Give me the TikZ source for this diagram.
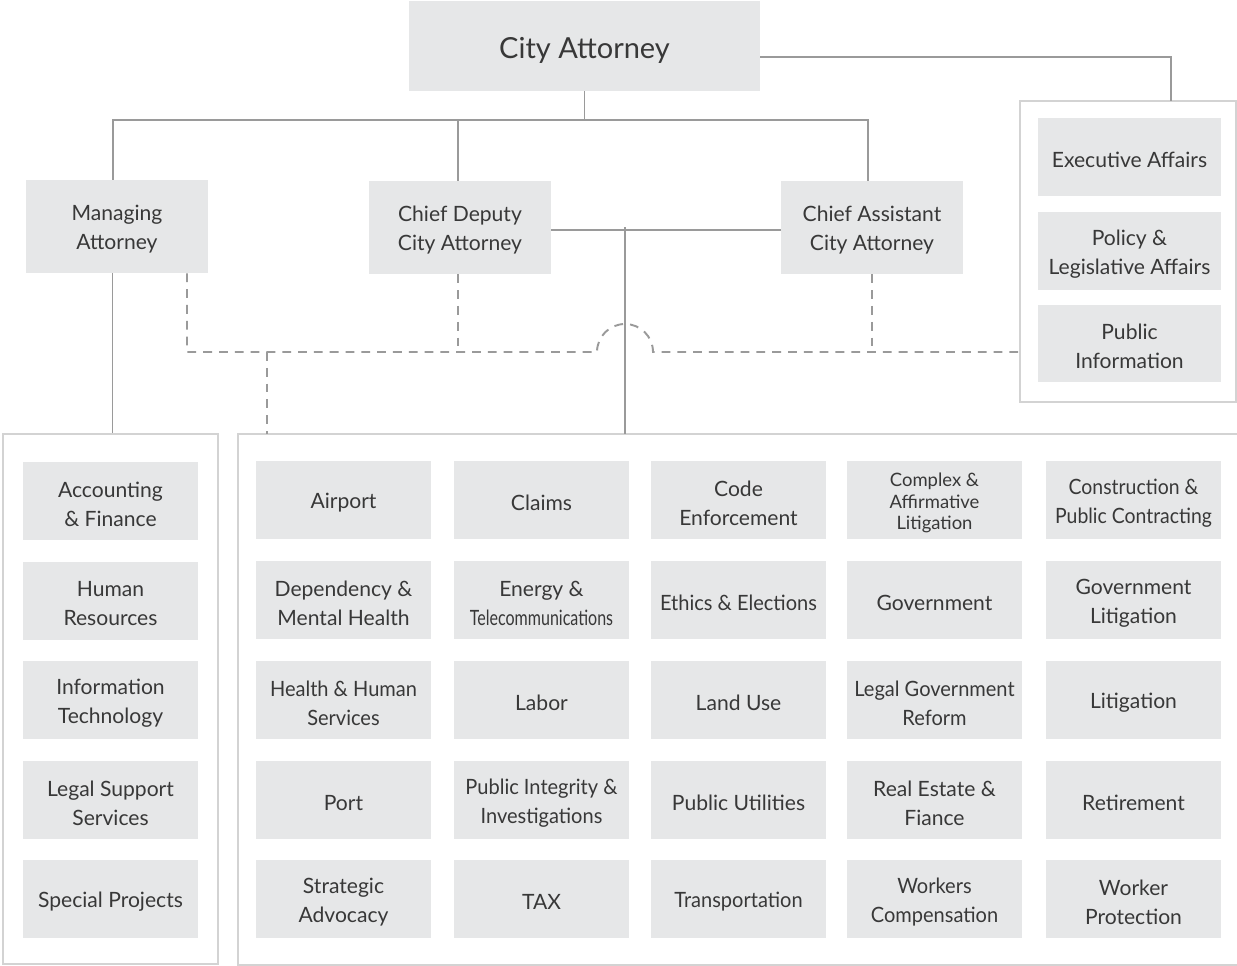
\documentclass[tikz,border=0pt]{standalone}
\usepackage{fontspec}
\setmainfont{Lato}
\usepackage{tikz}
\usetikzlibrary{positioning}

\definecolor{boxgray}{HTML}{E6E7E8}
\definecolor{linegray}{HTML}{9A9A9A}
\definecolor{framegray}{HTML}{D3D3D3}
\definecolor{textgray}{HTML}{383838}

\begin{document}
\begin{tikzpicture}[x=0.02cm, y=-0.02cm]
				\tikzstyle{Box}		= [fill=boxgray, inner sep=0pt, minimum width=3.5cm, minimum height=1.56cm]
				\tikzstyle{Head}	= [minimum width=3.64cm, minimum height=1.86cm]
				\tikzstyle{Side}	= [minimum width=3.66cm]
				\tikzstyle{Txt}		= [text=textgray, align=center, inner sep=0pt, yshift=-0.06cm, font=\fontsize{12}{16.5}\selectfont]
				\tikzstyle{Narrow}	= [font=\fontsize{10.5}{12.2}\selectfont]
				\tikzstyle{Slim}	= [font=\fontsize{12}{16.5}\selectfont\addfontfeatures{FakeStretch=0.95}]
				\tikzstyle{Panel}	= [draw=framegray, line width=1.1pt, inner sep=0pt]
				\tikzstyle{Solid}	= [draw=linegray, line width=1.1pt]
				\tikzstyle{Dash}	= [draw=linegray, line width=1.1pt, dash pattern=on 5pt off 4pt]

				\useasboundingbox (0,0) rectangle (1237,966);

				% frames around the units
				\node (lpanel) at (110.5,699) [Panel, minimum width=4.3cm, minimum height=10.6cm] {};
				\node (rpanel) at (1128,251.5) [Panel, minimum width=4.32cm, minimum height=6.02cm] {};
				\draw [Panel] (1237,434) -| (238,965) -- (1237,965);
				\coordinate (bigtop) at (625,434);
				\coordinate (dashtop) at (267,434);

				% top of the chart
				\node (ca) at (584.5,46) [Box, minimum width=7.02cm, minimum height=1.8cm, label={[Txt, yshift=-0.02cm, font=\fontsize{16.5}{20}\selectfont]center:City Attorney}] {};
				\node (ma) at (117,226.5) [Box][Head, label={[Txt]center:Managing\\Attorney}] {};
				\node (cd) at (460,227.5) [Box][Head, label={[Txt]center:Chief Deputy\\City Attorney}] {};
				\node (cas) at (872,227.5) [Box][Head, label={[Txt]center:Chief Assistant\\City Attorney}] {};

				\node (ea) at (1129.5,157) [Box][Side, label={[Txt]center:Executive Affairs}] {};
				\node (pla) at (1129.5,251) [Box][Side, label={[Txt]center:Policy \&\\Legislative Affairs}] {};
				\node (pi) at (1129.5,343.5) [Box][Side, label={[Txt]center:Public\\Information}] {};

				% administration
				\node (af) at (110.5,501) [Box, label={[Txt]center:Accounting\\\& Finance}] {};
				\node (hr) at (110.5,601) [Box, label={[Txt]center:Human\\Resources}] {};
				\node (it) at (110.5,700) [Box, label={[Txt]center:Information\\Technology}] {};
				\node (lss) at (110.5,800) [Box, label={[Txt]center:Legal Support\\Services}] {};
				\node (sp) at (110.5,899) [Box, label={[Txt]center:Special Projects}] {};

				% divisions
				\node (airport) at (343.5,500) [Box, label={[Txt]center:Airport}] {};
				\node (claims) at (541.5,500) [Box, label={[Txt]center:Claims}] {};
				\node (code) at (738.5,500) [Box, label={[Txt]center:Code\\Enforcement}] {};
				\node (cal) at (934.5,500) [Box, label={[Txt, Narrow]center:Complex \&\\Affirmative\\Litigation}] {};
				\node (cpc) at (1133.5,500) [Box, label={[Txt]center:\scalebox{0.92}[1]{Construction \&}\\\scalebox{0.92}[1]{Public Contracting}}] {};

				\node (dmh) at (343.5,600) [Box, label={[Txt]center:Dependency \&\\Mental Health}] {};
				\node (energy) at (541.5,600) [Box, label={[Txt]center:Energy \&\\\scalebox{0.76}[1]{Telecommunications}}] {};
				\node (ethics) at (738.5,600) [Box, label={[Txt, Slim]center:Ethics \& Elections}] {};
				\node (gov) at (934.5,600) [Box, label={[Txt]center:Government}] {};
				\node (govlit) at (1133.5,600) [Box, label={[Txt]center:Government\\Litigation}] {};

				\node (hhs) at (343.5,700) [Box, label={[Txt, Slim]center:Health \& Human\\Services}] {};
				\node (labor) at (541.5,700) [Box, label={[Txt]center:Labor}] {};
				\node (landuse) at (738.5,700) [Box, label={[Txt]center:Land Use}] {};
				\node (lgr) at (934.5,700) [Box, label={[Txt, Slim]center:Legal Government\\Reform}] {};
				\node (lit) at (1133.5,700) [Box, label={[Txt]center:Litigation}] {};

				\node (port) at (343.5,800) [Box, label={[Txt]center:Port}] {};
				\node (pii) at (541.5,800) [Box, label={[Txt, Slim]center:Public Integrity \&\\Investigations}] {};
				\node (pu) at (738.5,800) [Box, label={[Txt]center:Public Utilities}] {};
				\node (ref) at (934.5,800) [Box, label={[Txt]center:Real Estate \&\\Fiance}] {};
				\node (ret) at (1133.5,800) [Box, label={[Txt]center:Retirement}] {};

				\node (sa) at (343.5,899) [Box, label={[Txt]center:Strategic\\Advocacy}] {};
				\node (tax) at (541.5,899) [Box, label={[Txt]center:TAX}] {};
				\node (trans) at (738.5,899) [Box, label={[Txt, Slim]center:Transportation}] {};
				\node (wc) at (934.5,899) [Box, label={[Txt, Slim]center:Workers\\Compensation}] {};
				\node (wp) at (1133.5,899) [Box, label={[Txt]center:Worker\\Protection}] {};

				% reporting lines
				\coordinate (bus) at (584.5,120);
				\coordinate (rtop) at (1171,101);
				\draw [Solid] ([yshift=-0.22cm]ca.east) -| (rtop);
				\draw [Solid] (ca.south) -- (bus);
				\draw [Solid] ([xshift=-0.08cm]ma.north) |- ([xshift=-0.08cm]cas.north |- bus) -- ([xshift=-0.08cm]cas.north);
				\draw [Solid] ([xshift=-0.04cm]cd.north) -- ([xshift=-0.04cm]cd.north |- bus);
				\draw [Solid] ([yshift=-0.05cm]cd.east) -- ([yshift=-0.05cm]cas.west);
				\draw [Solid] (bigtop |- cas.west) -- (bigtop);
				\draw [Solid] ([xshift=-0.09cm]ma.south) -- ([xshift=-0.09cm]ma.south |- lpanel.north);

				% dotted lines, hopping over the solid one
				\coordinate (dl) at (187,352);
				\coordinate (hopl) at (597,352);
				\coordinate (hopr) at (653,352);
				\draw [Dash] ([xshift=1.4cm]ma.south) -- (dl) -- (hopl) arc [start angle=180, end angle=0, radius=0.56cm] -- (rpanel.west |- hopr);
				\draw [Dash] ([xshift=-0.04cm]cd.south) -- ([xshift=-0.04cm]cd.south |- dl);
				\draw [Dash] (cas.south) -- (cas.south |- dl);
				\draw [Dash] (dashtop |- dl) -- (dashtop);
			\end{tikzpicture}
\end{document}
